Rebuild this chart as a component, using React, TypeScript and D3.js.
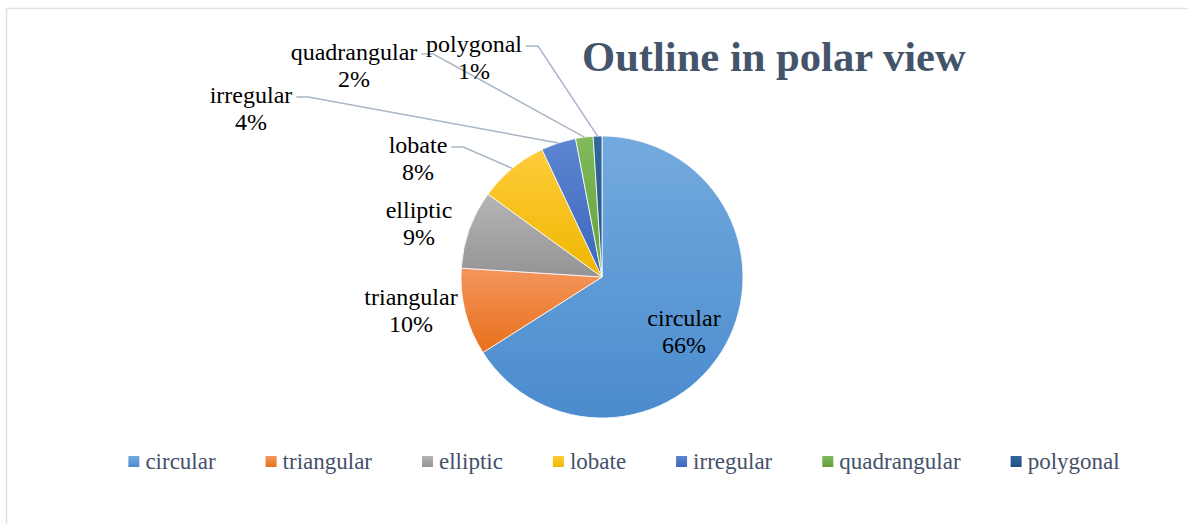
import React, { useEffect, useRef } from "react";
import * as d3 from "d3";

const categories = ["circular", "triangular", "elliptic", "lobate", "irregular", "quadrangular", "polygonal"];
const shares = [66, 10, 9, 8, 4, 2, 1];
const pctLabels = ["66%", "10%", "9%", "8%", "4%", "2%", "1%"];
const colorsTop = ["#74aadf", "#f4955c", "#b5b5b5", "#ffcb3a", "#5c86d1", "#80ba5c", "#33699c"];
const colorsBottom = ["#4a8bcd", "#e8701c", "#949494", "#efb700", "#3b66bb", "#62a03a", "#1e5184"];

// label placement (centre x of label, baseline of first line); leader = true draws a line
const labelLayout = [
  { x: 684, y: 326, leader: false },
  { x: 411, y: 305, leader: false },
  { x: 419, y: 218, leader: false },
  { x: 418, y: 153, leader: true },
  { x: 251, y: 103, leader: true },
  { x: 354, y: 60, leader: true },
  { x: 474, y: 52, leader: true },
];

function App() {
  const svgRef = useRef(null);

  useEffect(() => {
    const width = 1188;
    const height = 524;
    const cx = 602;
    const cy = 277;
    const radius = 141;
    const font = "'Liberation Serif', 'Times New Roman', serif";

    const svg = d3.select(svgRef.current).attr("width", width).attr("height", height);
    svg.selectAll("*").remove();

    // chart frame
    svg
      .append("rect")
      .attr("x", 6.5)
      .attr("y", 8.5)
      .attr("width", width)
      .attr("height", height)
      .attr("fill", "#fff")
      .attr("stroke", "#dde1e6")
      .attr("stroke-width", 1.5);

    const defs = svg.append("defs");
    categories.forEach((c, i) => {
      const g = defs
        .append("linearGradient")
        .attr("id", "grad" + i)
        .attr("x1", 0)
        .attr("y1", 0)
        .attr("x2", 0)
        .attr("y2", 1);
      g.append("stop").attr("offset", "0%").attr("stop-color", colorsTop[i]);
      g.append("stop").attr("offset", "100%").attr("stop-color", colorsBottom[i]);
    });

    svg
      .append("text")
      .attr("x", 582)
      .attr("y", 71)
      .attr("font-family", font)
      .attr("font-weight", "bold")
      .attr("font-size", 42.6)
      .attr("fill", "#44546a")
      .text("Outline in polar view");

    const pie = d3.pie().sort(null).value((d) => d)(shares);
    const arc = d3.arc().innerRadius(0).outerRadius(radius);

    const g = svg.append("g").attr("transform", `translate(${cx}, ${cy})`);

    g.selectAll("path")
      .data(pie)
      .enter()
      .append("path")
      .attr("d", arc)
      .attr("fill", (d, i) => `url(#grad${i})`)
      .attr("stroke", "#fff")
      .attr("stroke-width", 0.8);

    // leader lines
    const lines = svg.append("g");
    pie.forEach((d, i) => {
      const lay = labelLayout[i];
      if (!lay.leader) return;
      const mid = (d.startAngle + d.endAngle) / 2;
      const px = cx + radius * Math.sin(mid);
      const py = cy - radius * Math.cos(mid);
      const tmp = svg
        .append("text")
        .attr("font-family", font)
        .attr("font-size", 24)
        .text(categories[i]);
      const w = tmp.node().getComputedTextLength();
      tmp.remove();
      const sx = lay.x + w / 2 + 4;
      const sy = lay.y - 6;
      lines
        .append("polyline")
        .attr("points", `${sx},${sy} ${sx + 12},${sy} ${px},${py}`)
        .attr("fill", "none")
        .attr("stroke", "#a9b6c8")
        .attr("stroke-width", 1.5);
    });

    // data labels
    const labels = svg.append("g").attr("font-family", font).attr("font-size", 24).attr("fill", "#000");
    categories.forEach((c, i) => {
      const lay = labelLayout[i];
      const t = labels.append("text").attr("text-anchor", "middle");
      t.append("tspan").attr("x", lay.x).attr("y", lay.y).text(c);
      t.append("tspan").attr("x", lay.x).attr("y", lay.y + 27).text(pctLabels[i]);
    });

    // legend
    const legend = svg.append("g").attr("font-family", font).attr("font-size", 23).attr("fill", "#44516a");
    const sq = 11;
    const gap = 6;
    const spacing = 50;
    const items = categories.map((c, i) => {
      const item = legend.append("g");
      item.append("rect").attr("width", sq).attr("height", sq).attr("y", 456).attr("fill", `url(#grad${i})`);
      const t = item
        .append("text")
        .attr("x", sq + gap)
        .attr("y", 469)
        .text(c);
      return { item, w: sq + gap + t.node().getComputedTextLength() };
    });
    const total = d3.sum(items, (d) => d.w) + spacing * (items.length - 1);
    let x = 624 - total / 2;
    items.forEach((d) => {
      d.item.attr("transform", `translate(${x}, 0)`);
      x += d.w + spacing;
    });
  }, []);

  return (
    <div style={{ position: "absolute", left: 0, top: 0 }}>
      <svg ref={svgRef}></svg>
    </div>
  );
}

export default App;
